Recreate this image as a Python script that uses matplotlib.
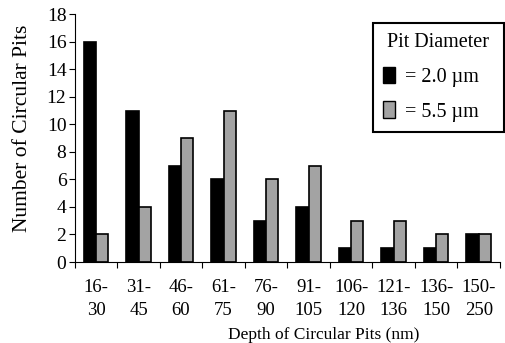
import numpy as np
import matplotlib
matplotlib.use('Agg')
import matplotlib.pyplot as plt
from matplotlib.patches import Patch

# depth bins (nm) and pit counts
bins = ['16-\n30', '31-\n45', '46-\n60', '61-\n75', '76-\n90',
        '91-\n105', '106-\n120', '121-\n136', '136-\n150', '150-\n250']
pits_2um = [16, 11, 7, 6, 3, 4, 1, 1, 1, 2]
pits_55um = [2, 4, 9, 11, 6, 7, 3, 3, 2, 2]

plt.rcParams['font.family'] = ['Liberation Serif', 'DejaVu Serif']

fig = plt.figure(figsize=(5.05, 3.43), dpi=100)
ax = fig.add_axes([0.148, 0.236, 0.842, 0.723])

x = np.arange(len(bins))
w = 0.29
ax.bar(x - w / 2, pits_2um, w, color='black', edgecolor='black', linewidth=1.2)
ax.bar(x + w / 2, pits_55um, w, color='#a3a3a3', edgecolor='black', linewidth=1.2)

ax.set_xlim(-0.5, len(bins) - 0.5)
ax.set_ylim(0, 18)
ax.set_yticks(range(0, 19, 2))
ax.set_xticks(x)
ax.set_xticklabels(bins, fontsize=13.5, linespacing=1.5)
ax.set_xticks(np.arange(len(bins) + 1) - 0.5, minor=True)
ax.tick_params(axis='x', which='major', length=0, pad=12)
ax.tick_params(axis='x', which='minor', length=4, width=0.8, direction='out')
ax.tick_params(axis='y', labelsize=14, length=4, width=0.8, direction='out', pad=2)

for s in ['top', 'right']:
    ax.spines[s].set_visible(False)
for s in ['left', 'bottom']:
    ax.spines[s].set_linewidth(0.8)

ax.set_xlabel('Depth of Circular Pits (nm)', fontsize=12.5)
ax.xaxis.set_label_coords(0.586, -0.26)
ax.set_ylabel('Number of Circular Pits', fontsize=15.5)
ax.yaxis.set_label_coords(-0.1, 0.54)

handles = [Patch(facecolor='black', edgecolor='black'),
           Patch(facecolor='#a3a3a3', edgecolor='black')]
leg = ax.legend(handles, ['= 2.0 \u00b5m', '= 5.5 \u00b5m'], title='Pit Diameter',
                loc='upper left', bbox_to_anchor=(0.701, 0.864, 0.308, 0.1),
                mode='expand', fontsize=14.5,
                title_fontsize=14.5, fancybox=False, framealpha=1,
                handlelength=0.6, handleheight=0.9, handletextpad=0.5,
                borderpad=0.5, labelspacing=0.72, borderaxespad=0)
leg.get_frame().set_edgecolor('black')
leg.get_frame().set_linewidth(1.5)

fig.savefig('out.png', dpi=100)
